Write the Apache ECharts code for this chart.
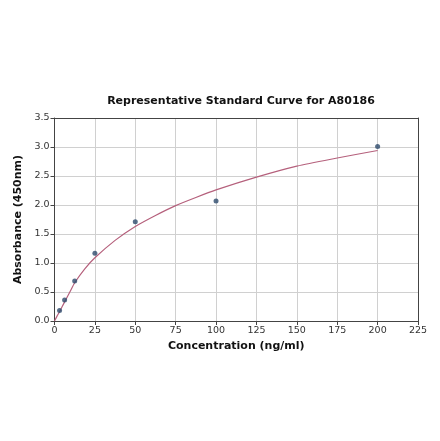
<!DOCTYPE html>
<html><head><meta charset="utf-8">
<script src="https://cdn.jsdelivr.net/npm/echarts@6/dist/echarts.min.js"></script>
<style>html,body{margin:0;padding:0;background:#fff}#c{width:440px;height:441px}</style>
</head><body><div id="c"></div>
<script>
var titleText = 'Representative Standard Curve for A80186';
var xName = 'Concentration (ng/ml)';
var yName = 'Absorbance (450nm)';
var pointX = [3.125, 6.25, 12.5, 25, 50, 100, 200];
var pointY = [0.18, 0.36, 0.69, 1.17, 1.71, 2.07, 3.01];
var curveX = [0, 1.5, 3.125, 6.25, 9.5, 12.5, 18.75, 25, 37.5, 50, 62.5, 75, 87.5, 100, 125, 150, 175, 200];
var curveY = [0, 0.08, 0.16, 0.33, 0.50, 0.66, 0.90, 1.09, 1.39, 1.63, 1.82, 1.99, 2.13, 2.26, 2.48, 2.67, 2.81, 2.94];
var xTicks = [0, 25, 50, 75, 100, 125, 150, 175, 200, 225];
var yTicks = [0, 0.5, 1.0, 1.5, 2.0, 2.5, 3.0, 3.5];

var pts = pointX.map(function(x,i){return [x, pointY[i]];});
var crv = curveX.map(function(x,i){return [x, curveY[i]];});
var font = 'DejaVu Sans';
var axisCol = '#444';
var chart = echarts.init(document.getElementById('c'));
chart.setOption({
  animation:false,
  title:{text:titleText,left:236,top:91,textAlign:'center',textStyle:{fontFamily:font,fontSize:11,fontWeight:'bold',color:'#111'}},
  grid:{left:54.5,right:22,top:118,bottom:120},
  xAxis:[{type:'value',min:xTicks[0],max:xTicks[xTicks.length-1],interval:25,
    name:xName,nameLocation:'middle',nameGap:20,
    nameTextStyle:{fontFamily:font,fontSize:11,fontWeight:'bold',color:'#111'},
    axisLine:{lineStyle:{color:axisCol,width:1}},
    axisTick:{show:true,length:4,lineStyle:{color:axisCol}},
    axisLabel:{fontFamily:font,fontSize:9.5,color:'#333',margin:5},
    splitLine:{show:true,lineStyle:{color:'#d0d0d0',width:1}}},
   {type:'value',position:'top',min:0,max:225,interval:25,axisLine:{show:true,onZero:false,lineStyle:{color:axisCol}},axisTick:{show:false},axisLabel:{show:false},splitLine:{show:false}}],
  yAxis:[{type:'value',min:yTicks[0],max:yTicks[yTicks.length-1],interval:0.5,
    name:yName,nameLocation:'middle',nameGap:26,
    nameTextStyle:{fontFamily:font,fontSize:11,fontWeight:'bold',color:'#111'},
    axisLine:{show:true,lineStyle:{color:axisCol,width:1}},
    axisTick:{show:true,length:4,lineStyle:{color:axisCol}},
    axisLabel:{fontFamily:font,fontSize:9.5,color:'#333',margin:5,formatter:function(v){return v.toFixed(1);}},
    splitLine:{show:true,lineStyle:{color:'#d0d0d0',width:1}}},
   {type:'value',position:'right',min:0,max:3.5,interval:0.5,axisLine:{show:true,onZero:false,lineStyle:{color:axisCol}},axisTick:{show:false},axisLabel:{show:false},splitLine:{show:false}}],
  series:[
    {type:'line',data:crv,smooth:0.25,showSymbol:false,symbol:'none',lineStyle:{color:'#b5607c',width:1.2},z:2},
    {type:'scatter',data:pts,symbolSize:5,itemStyle:{color:'#2d4a6b'},z:3}
  ]
});
</script></body></html>
